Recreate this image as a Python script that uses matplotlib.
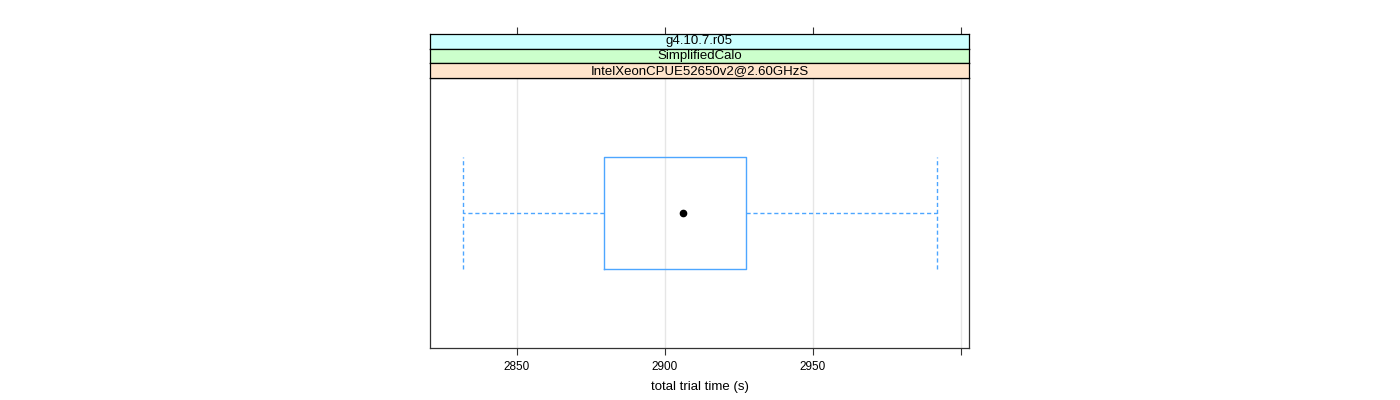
import matplotlib
matplotlib.use("Agg")
import matplotlib.pyplot as plt

# data
strip_labels = ["g4.10.7.r05", "SimplifiedCalo", "IntelXeonCPUE52650v2@2.60GHzS"]
strip_colors = ["#ccffff", "#ccffcc", "#ffe5cc"]
whisker_lo = 2832.0
q1 = 2879.5
median = 2906.1
q3 = 2927.6
whisker_hi = 2991.9
x_ticks = [2850, 2900, 2950, 3000]
x_ticklabels = ["2850", "2900", "2950", ""]
x_label = "total trial time (s)"

plt.rcParams['font.family'] = ['Liberation Sans', 'DejaVu Sans']

W, H = 1400, 400
fig = plt.figure(figsize=(14, 4), dpi=100)

def fbox(x0, y0, x1, y1):
    return [x0 / W, 1 - y1 / H, (x1 - x0) / W, (y1 - y0) / H]

xlim = (2820.75, 3002.8)
frame_col = "#333333"

ax = fig.add_axes(fbox(430, 78, 969, 348))
ax.set_xlim(*xlim)
ax.set_ylim(0.4, 1.6)
for xv in x_ticks:
    ax.axvline(xv, color="#e6e6e6", lw=1, zorder=0)

stats = [dict(med=median, q1=q1, q3=q3, whislo=whisker_lo, whishi=whisker_hi, fliers=[])]
blue = "#4da6ff"
ax.bxp(stats, positions=[1], widths=0.5, capwidths=0.5, orientation='horizontal',
       showfliers=False,
       boxprops=dict(color=blue, lw=1),
       whiskerprops=dict(color=blue, lw=1, linestyle=(0, (3, 2))),
       capprops=dict(color=blue, lw=1, linestyle=(0, (3, 2))),
       medianprops=dict(visible=False))
ax.plot([median], [1], 'o', color="black", ms=4.5, zorder=5)

ax.set_yticks([])
ax.set_xticks(x_ticks)
ax.set_xticklabels(x_ticklabels, fontsize=8.5)
ax.tick_params(axis='x', direction='out', length=5, width=0.8, color=frame_col, pad=4)
ax.set_xlabel(x_label, fontsize=9.5, labelpad=6)
for s in ax.spines.values():
    s.set_color(frame_col)
    s.set_linewidth(0.9)

row_edges = [34, 48.7, 63.4, 78]
for i, (lab, col) in enumerate(zip(strip_labels, strip_colors)):
    sax = fig.add_axes(fbox(430, row_edges[i], 969, row_edges[i + 1]))
    sax.set_facecolor(col)
    sax.set_xlim(*xlim)
    sax.set_ylim(0, 1)
    sax.set_yticks([])
    sax.text(0.5, 0.5, lab, transform=sax.transAxes, ha="center", va="center", fontsize=9.5)
    for s in sax.spines.values():
        s.set_color("black")
        s.set_linewidth(0.9)
    if i == 0:
        sax.xaxis.set_ticks_position('top')
        sax.set_xticks(x_ticks)
        sax.set_xticklabels([])
        sax.tick_params(axis='x', direction='out', length=5, width=0.8, color=frame_col)
    else:
        sax.set_xticks([])

fig.savefig("out.png", dpi=100)
